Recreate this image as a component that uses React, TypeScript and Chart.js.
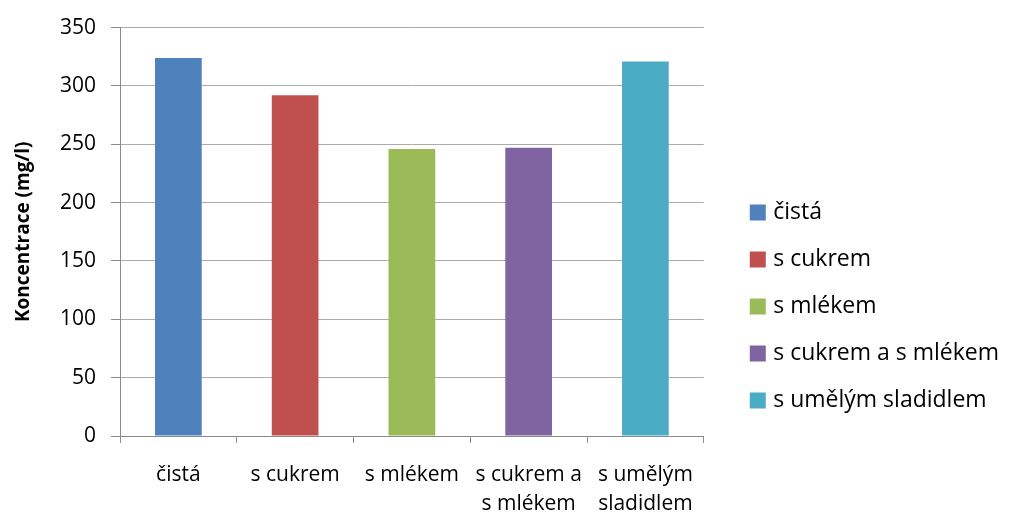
import { useEffect, useRef } from 'react';
import { Chart, registerables, layouts } from 'chart.js';

Chart.register(...registerables);

// Category labels on the x axis (wrapped onto two lines where needed)
const categories: string[][] = [
  ['čistá'],
  ['s cukrem'],
  ['s mlékem'],
  ['s cukrem a', 's mlékem'],
  ['s umělým', 'sladidlem'],
];

// Legend entries, one per bar
const legendNames: string[] = [
  'čistá',
  's cukrem',
  's mlékem',
  's cukrem a s mlékem',
  's umělým sladidlem',
];

// Concentration in mg/l
const concentrations: number[] = [324, 292, 246, 247, 321];

const barColors: string[] = ['#4F81BD', '#C0504D', '#9BBB59', '#8064A2', '#4BACC6'];

const Y_MIN = 0;
const Y_MAX = 350;
const Y_STEP = 50;

const FONT = "'Open Sans', 'DejaVu Sans', sans-serif";
const GRID = '#ABABAB';
const AXIS = '#8A8A8A';

// Empty layout box that keeps some room between the plot area and the legend
const LEGEND_GAP = 26;
const legendGap = {
  id: 'legendGap',
  beforeInit(chart: any) {
    layouts.addBox(chart, {
      position: 'right',
      weight: 500,
      fullSize: false,
      options: {},
      left: 0,
      top: 0,
      right: 0,
      bottom: 0,
      width: 0,
      height: 0,
      update(this: any, _maxWidth: number, maxHeight: number) {
        this.width = LEGEND_GAP;
        this.height = maxHeight;
      },
      isHorizontal() {
        return false;
      },
      draw() {},
    } as any);
  },
};

export default function App() {
  const canvasRef = useRef<HTMLCanvasElement | null>(null);

  useEffect(() => {
    const canvas = canvasRef.current;
    if (!canvas) return;

    const chart = new Chart(canvas, {
      type: 'bar',
      data: {
        labels: categories,
        datasets: [
          {
            label: 'Koncentrace',
            data: concentrations,
            backgroundColor: barColors,
            borderWidth: 0,
            barPercentage: 0.4,
            categoryPercentage: 1.0,
          },
        ],
      },
      plugins: [legendGap],
      options: {
        responsive: false,
        animation: false,
        layout: {
          padding: { top: 23, left: 0, bottom: 0, right: 7 },
        },
        plugins: {
          tooltip: { enabled: false },
          legend: {
            display: true,
            position: 'right',
            align: 'end',
            fullSize: false,
            maxWidth: 400,
            labels: {
              usePointStyle: true,
              boxWidth: 8,
              boxHeight: 16,
              padding: 24,
              color: '#000',
              font: { family: FONT, size: 23 },
              generateLabels: () =>
                legendNames.map((text, i) => ({
                  text,
                  fillStyle: barColors[i],
                  strokeStyle: barColors[i],
                  lineWidth: 0,
                  pointStyle: 'rect',
                  hidden: false,
                  index: i,
                  datasetIndex: 0,
                  fontColor: '#000',
                })),
            },
          },
        },
        scales: {
          x: {
            grid: {
              offset: true,
              drawOnChartArea: false,
              drawTicks: true,
              tickLength: 7,
              tickColor: AXIS,
              tickWidth: 1,
            },
            border: { display: true, color: AXIS, width: 1 },
            ticks: {
              color: '#000',
              font: { family: FONT, size: 21, lineHeight: 1.35 },
              padding: 18,
              autoSkip: false,
              maxRotation: 0,
              minRotation: 0,
            },
            afterFit(scale: any) {
              scale.height = 78;
            },
          },
          y: {
            min: Y_MIN,
            max: Y_MAX,
            grid: {
              color: GRID,
              lineWidth: 1,
              drawTicks: true,
              tickLength: 9,
              tickColor: AXIS,
              tickWidth: 1,
            },
            border: { display: true, color: AXIS, width: 1 },
            ticks: {
              stepSize: Y_STEP,
              color: '#000',
              font: { family: FONT, size: 21 },
              padding: 15,
            },
            title: {
              display: true,
              text: 'Koncentrace (mg/l)',
              color: '#000',
              font: { family: FONT, size: 19, weight: 'bold' },
              padding: { top: 12, bottom: 0 },
            },
            afterFit(scale: any) {
              scale.width = 120;
            },
          },
        },
      },
    } as any);

    return () => {
      chart.destroy();
    };
  }, []);

  return (
    <div style={{ position: 'fixed', left: 0, top: 0, width: 1016, height: 514, background: '#fff' }}>
      <canvas ref={canvasRef} width={1016} height={514} style={{ display: 'block' }} />
    </div>
  );
}
